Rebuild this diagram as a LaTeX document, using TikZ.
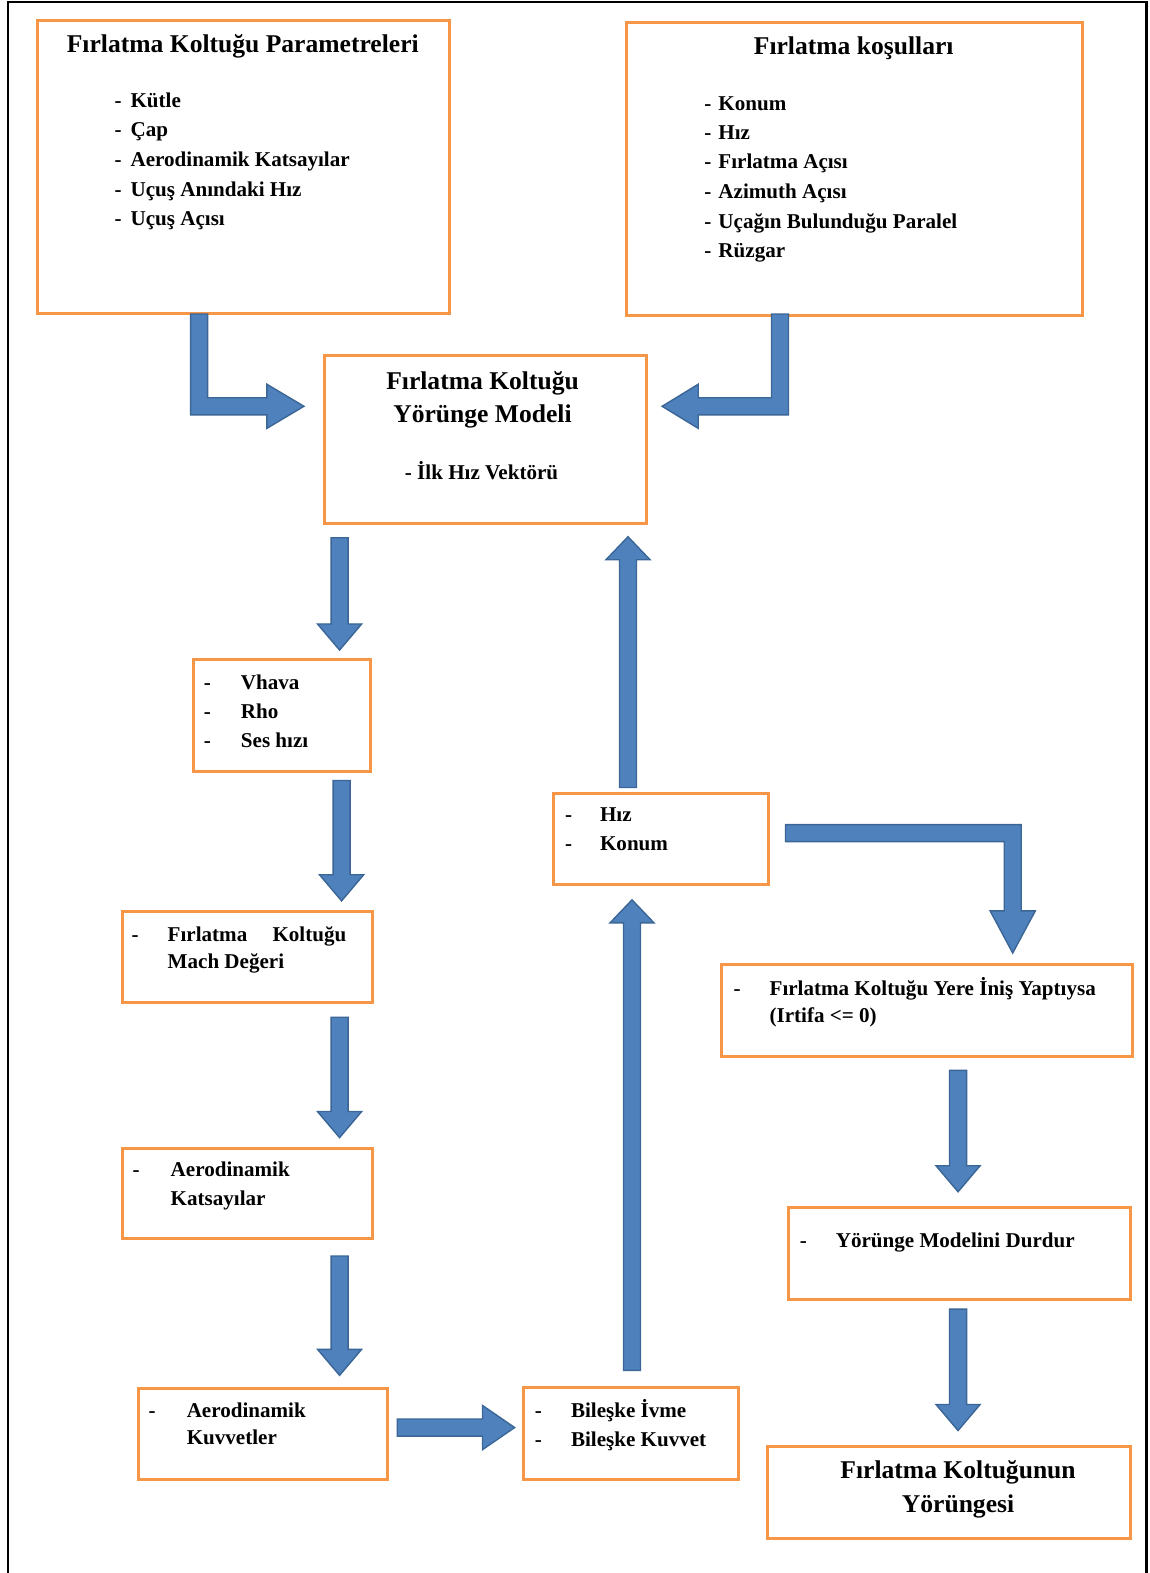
\documentclass[tikz,border=0pt]{standalone}
\usepackage{fontspec}
\setmainfont{Liberation Serif}
\definecolor{boxorange}{HTML}{F79646}
\definecolor{arrowblue}{HTML}{4F81BD}
\definecolor{arrowedge}{HTML}{3B6696}
\newcommand{\vblock}[4]{% x, ystart, ybase, ytip
  \filldraw[blk] ({#1-8.5},#2) -- ({#1-8.5},#3) -- ({#1-22},#3) -- (#1,#4) -- ({#1+22},#3) -- ({#1+8.5},#3) -- ({#1+8.5},#2) -- cycle;}
\newcommand{\hblock}[4]{% y, xstart, xbase, xtip
  \filldraw[blk] (#2,{#1-8.5}) -- (#3,{#1-8.5}) -- (#3,{#1-22}) -- (#4,#1) -- (#3,{#1+22}) -- (#3,{#1+8.5}) -- (#2,{#1+8.5}) -- cycle;}
\newcommand{\dashitem}[2]{\makebox[#1][l]{-}#2}
\begin{document}
\begin{tikzpicture}[x=1pt,y=-1pt,
  box/.style={draw=boxorange,line width=3pt,fill=white,inner sep=0pt,anchor=north west},
  blk/.style={fill=arrowblue,draw=arrowedge,line width=1.4pt,line join=miter},
  ttl/.style={font=\fontsize{25.5}{33}\selectfont\bfseries,anchor=base,inner sep=0pt},
  itm/.style={font=\fontsize{21}{29}\selectfont\bfseries,anchor=base west,inner sep=0pt},
  itc/.style={font=\fontsize{21}{29}\selectfont\bfseries,anchor=base,inner sep=0pt},
]
\useasboundingbox (0,0) rectangle (1146,1568);
% outer frame (open at the bottom)
\draw[line width=2.5pt] (8,1568) -- (8,2) -- (1143,2) -- (1143,1568);

% boxes
\node[box,minimum width=411pt,minimum height=292pt] (params) at (36,19) {};
\node[box,minimum width=455pt,minimum height=292pt] (cond) at (623,21) {};
\node[box,minimum width=321pt,minimum height=167pt] (model) at (322,353) {};
\node[box,minimum width=177pt,minimum height=112pt] (atm) at (191,656) {};
\node[box,minimum width=249pt,minimum height=91pt] (mach) at (121,907) {};
\node[box,minimum width=249pt,minimum height=90pt] (coef) at (121,1143) {};
\node[box,minimum width=248pt,minimum height=90pt] (force) at (137,1383) {};
\node[box,minimum width=215pt,minimum height=91pt] (result) at (520,1382) {};
\node[box,minimum width=215pt,minimum height=91pt] (state) at (550,789) {};
\node[box,minimum width=409pt,minimum height=92pt] (land) at (718,960) {};
\node[box,minimum width=341pt,minimum height=92pt] (stop) at (784,1202) {};
\node[box,minimum width=361pt,minimum height=92pt] (traj) at (764,1440) {};

% texts: parameters
\node[ttl] (t1) at (242,52) {Fırlatma Koltuğu Parametreleri};
\node[itm] (t1a) at (114,107) {\dashitem{16pt}{Kütle}};
\node[itm] (t1b) at (114,136.5) {\dashitem{16pt}{Çap}};
\node[itm] (t1c) at (114,166) {\dashitem{16pt}{Aerodinamik Katsayılar}};
\node[itm] (t1d) at (114,195.5) {\dashitem{16pt}{Uçuş Anındaki Hız}};
\node[itm] (t1e) at (114,225) {\dashitem{16pt}{Uçuş Açısı}};

% texts: conditions
\node[ttl] (t2) at (851,54) {Fırlatma koşulları};
\node[itm] (t2a) at (702,110) {\dashitem{14pt}{Konum}};
\node[itm] (t2b) at (702,139) {\dashitem{14pt}{Hız}};
\node[itm] (t2c) at (702,168) {\dashitem{14pt}{Fırlatma Açısı}};
\node[itm] (t2d) at (702,198) {\dashitem{14pt}{Azimuth Açısı}};
\node[itm] (t2e) at (702,228) {\dashitem{14pt}{Uçağın Bulunduğu Paralel}};
\node[itm] (t2f) at (702,257) {\dashitem{14pt}{Rüzgar}};

% texts: model
\node[ttl] (t3a) at (481,388) {Fırlatma Koltuğu};
\node[ttl] (t3b) at (481,421) {Yörünge Modeli};
\node[itc] (t3c) at (480,478) {- İlk Hız Vektörü};

% texts: atmosphere
\node[itm] (t4a) at (203,687) {\dashitem{37pt}{Vhava}};
\node[itm] (t4b) at (203,716) {\dashitem{37pt}{Rho}};
\node[itm] (t4c) at (203,745) {\dashitem{37pt}{Ses hızı}};

% texts: mach
\node[itm] (t5a) at (131,938) {\dashitem{36pt}{\makebox[178pt][s]{Fırlatma Koltuğu}}};
\node[itm] (t5b) at (167,965) {Mach Değeri};

% texts: coefficients
\node[itm] (t6a) at (132,1173) {\dashitem{38pt}{Aerodinamik}};
\node[itm] (t6b) at (170,1202) {Katsayılar};

% texts: forces
\node[itm] (t7a) at (148,1413) {\dashitem{38pt}{Aerodinamik}};
\node[itm] (t7b) at (186,1440) {Kuvvetler};

% texts: resultant
\node[itm] (t8a) at (533,1413) {\dashitem{36pt}{Bileşke İvme}};
\node[itm] (t8b) at (533,1442) {\dashitem{36pt}{Bileşke Kuvvet}};

% texts: state
\node[itm] (t9a) at (563,819) {\dashitem{35pt}{Hız}};
\node[itm] (t9b) at (563,848) {\dashitem{35pt}{Konum}};

% texts: landing
\node[itm] (t10a) at (731,992) {\dashitem{36pt}{Fırlatma Koltuğu Yere İniş Yaptıysa}};
\node[itm] (t10b) at (767,1019) {(Irtifa <= 0)};

% texts: stop
\node[itm] (t11) at (797,1244) {\dashitem{36pt}{Yörünge Modelini Durdur}};

% texts: trajectory
\node[ttl] (t12a) at (955,1474) {Fırlatma Koltuğunun};
\node[ttl] (t12b) at (955,1508) {Yörüngesi};

% block arrows
\filldraw[blk] (190,313) -- (190,413.5) -- (266,413.5) -- (266,427) -- (303,405) -- (266,383) -- (266,396.5) -- (207,396.5) -- (207,313) -- cycle;
\filldraw[blk] (786,313) -- (786,413.5) -- (696,413.5) -- (696,427) -- (660,405) -- (696,383) -- (696,396.5) -- (769,396.5) -- (769,313) -- cycle;
\vblock{338.5}{536}{622}{648}
\vblock{340.5}{778}{872}{898}
\vblock{338.5}{1014}{1108}{1134}
\vblock{338.5}{1252}{1345}{1371}
\hblock{1423}{396}{481}{513}
\vblock{630}{1366}{920}{897}
\vblock{626}{785}{558}{535}
\filldraw[blk] (783,822) -- (1018,822) -- (1018,908) -- (1032,908) -- (1009.5,950) -- (987,908) -- (1001,908) -- (1001,839) -- (783,839) -- cycle;
\vblock{955}{1067}{1162}{1188}
\vblock{955}{1305}{1400}{1426}
\end{tikzpicture}
\end{document}
